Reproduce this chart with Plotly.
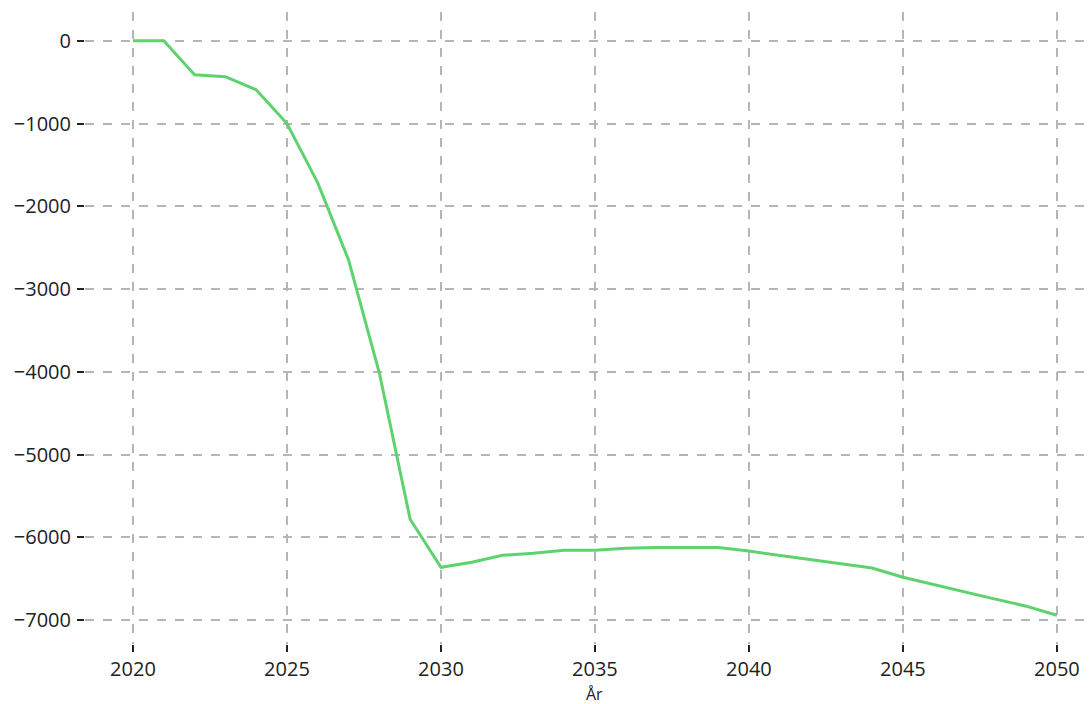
import plotly.graph_objects as go

years = list(range(2020, 2051))
values = [0, 0, -411, -435, -593, -1000, -1717, -2648, -4014, -5780,
          -6360, -6300, -6215, -6190, -6155, -6155, -6130, -6120, -6120, -6120,
          -6165, -6215, -6265, -6320, -6370, -6480, -6570, -6655, -6745, -6830,
          -6940]
x_ticks = [2020, 2025, 2030, 2035, 2040, 2045, 2050]
y_ticks = [0, -1000, -2000, -3000, -4000, -5000, -6000, -7000]
y_ticktext = ["0"] + ["\u2212" + str(-v) for v in y_ticks[1:]]

fig = go.Figure()
fig.add_trace(go.Scatter(x=years, y=values, mode="lines",
                         line=dict(color="#5ed36d", width=3), showlegend=False))

grid = dict(showgrid=True, gridcolor="#b5b5b5", griddash="dash", gridwidth=1.5,
            zeroline=False, showline=False, ticks="outside", ticklen=7,
            tickwidth=1.5, tickcolor="#222222", automargin=False,
            tickfont=dict(size=20, color="#222222"))

fig.update_xaxes(range=[2018.442, 2051.14], tickvals=x_ticks,
                 ticklabelstandoff=0, **grid)
fig.update_yaxes(range=[-7287, 347], tickvals=y_ticks, ticktext=y_ticktext,
                 ticklabelstandoff=2, **grid)

fig.add_annotation(x=2035, xref="x", y=-0.0795, yref="paper", text="År",
                   showarrow=False, yanchor="middle",
                   font=dict(size=16, color="#222222"))

fig.update_layout(width=1092, height=704,
                  margin=dict(l=85, r=0, t=12, b=60),
                  plot_bgcolor="white", paper_bgcolor="white",
                  font=dict(family="Open Sans", size=18, color="#222222"))

fig.write_html("out.html", config={"displayModeBar": False},
               post_script="document.body.style.margin='0';document.body.style.overflow='hidden';")
